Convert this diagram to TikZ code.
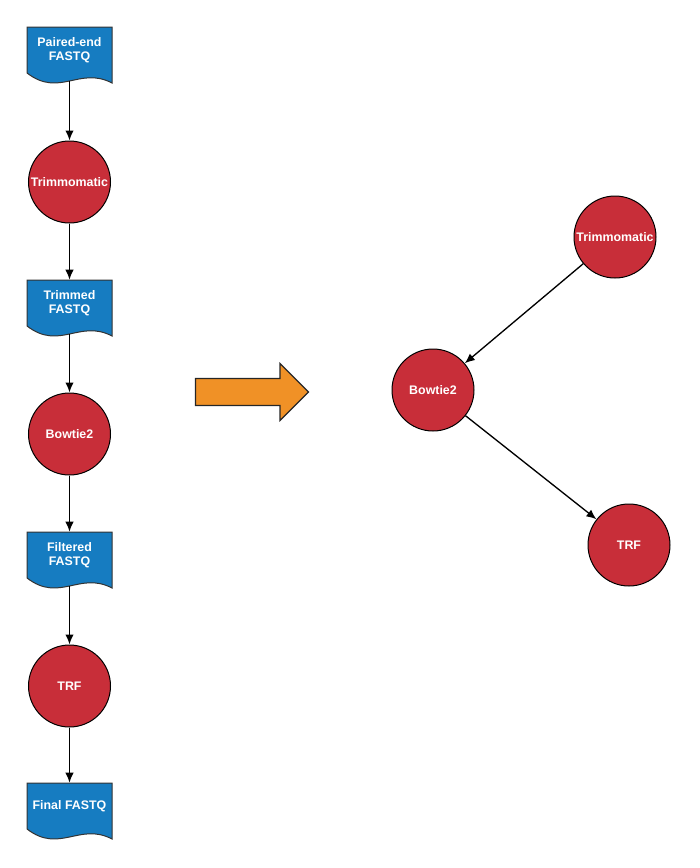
\documentclass[tikz,border=0pt]{standalone}
\usepackage{fontspec}
\setmainfont{Liberation Sans}
\usepackage{tikz}
\usetikzlibrary{arrows.meta}
\usetikzlibrary{positioning}
\definecolor{fileblue}{RGB}{22,124,193}
\definecolor{toolred}{RGB}{200,46,57}
\definecolor{arroworange}{RGB}{240,145,38}
\tikzset{>=latex}
\tikzstyle{tool} = [circle, draw=black, line width=0.75pt, fill=toolred, text=white, minimum size=61.5pt, inner sep=0, font=\bfseries\fontsize{9.3}{10.8}\selectfont]
\tikzstyle{file} = [draw=none, text=white, align=center, minimum width=63.75pt, minimum height=34.5pt, inner sep=0, font=\bfseries\fontsize{9.3}{10.8}\selectfont]
\tikzstyle{wave} = [fill=fileblue, draw=black!80, line width=0.75pt]
\tikzstyle{link} = [-{Latex[length=7.5pt, width=6.3pt]}, draw=black, line width=1pt]
% document shape with wavy bottom: #1 name, #2 centre, #3 text
\newcommand{\fastqdoc}[3]{%
  \draw [wave, shift={#2}] (-42.5,-23) -- (42.5,-23) -- (42.5,33) .. controls (10,16) and (-10,48) .. (-42.5,23) -- cycle;
  \node [file] (#1) at #2 {#3};
  \path [shift={#2}] (0,31) coordinate (#1out);
}

\begin{document}
\begin{tikzpicture}[x=0.75pt, y=-0.75pt]
\useasboundingbox (0,0) rectangle (700,868);
% left: the whole pipeline
\fastqdoc{PE}{(69.5,50)}{Paired-end\\FASTQ}
\node [tool] (Trim) at (69.5,182) {Trimmomatic};
\fastqdoc{TF}{(69.5,303)}{Trimmed\\FASTQ}
\node [tool] (Bow) at (69.5,434) {Bowtie2};
\fastqdoc{FF}{(69.5,555)}{Filtered\\FASTQ}
\node [tool] (TRF) at (69.5,686) {TRF};
\fastqdoc{Fin}{(69.5,806)}{Final FASTQ}
\draw [link] (PEout) to (Trim);
\draw [link] (Trim) to (TF);
\draw [link] (TFout) to (Bow);
\draw [link] (Bow) to (FF);
\draw [link] (FFout) to (TRF);
\draw [link] (TRF) to (Fin);
% block arrow
\draw [fill=arroworange, draw=black!85, line width=0.9pt] (195.5,378.5) -- (280,378.5) -- (280,363.5) -- (308.5,392) -- (280,420.5) -- (280,405.5) -- (195.5,405.5) -- cycle;
% right: tools only
\node [tool] (TrimR) at (615,237) {Trimmomatic};
\node [tool] (BowR) at (433,390) {Bowtie2};
\node [tool] (TRFR) at (629,545) {TRF};
\draw [link] (TrimR) to (BowR);
\draw [link] (BowR) to (TRFR);
\end{tikzpicture}
\end{document}
